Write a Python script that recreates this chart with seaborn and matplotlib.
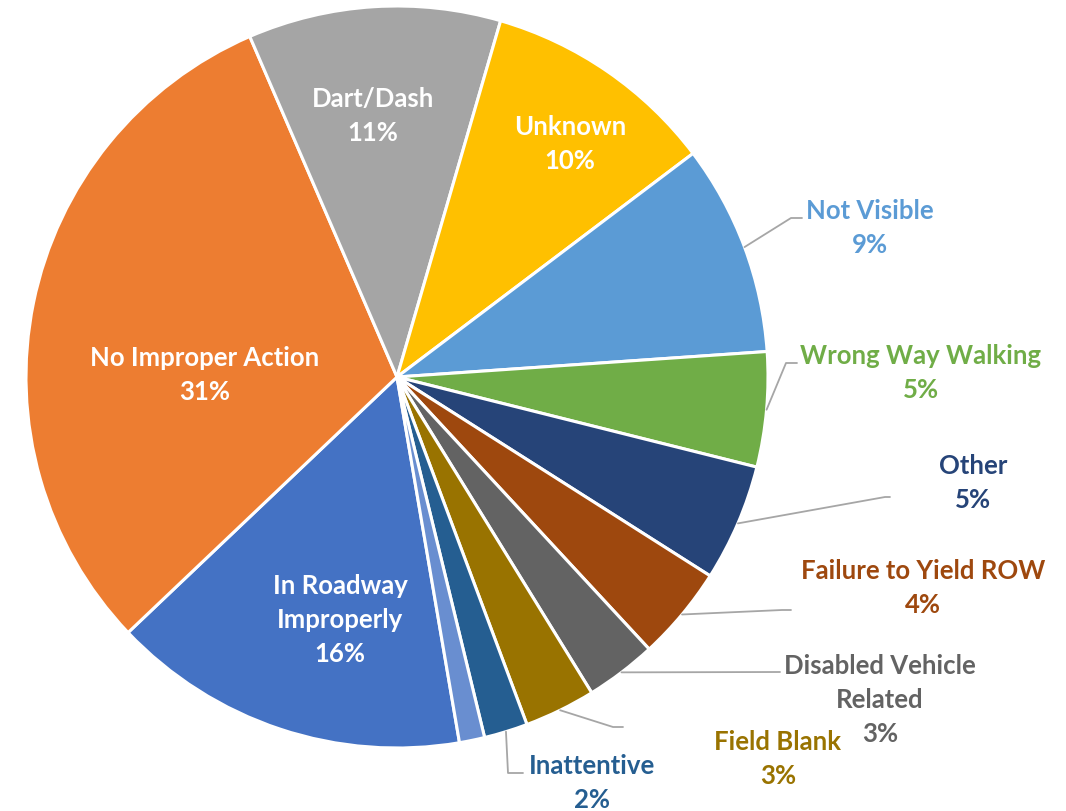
import matplotlib
matplotlib.use("Agg")
import numpy as np
import matplotlib.pyplot as plt
import seaborn as sns

# slices in drawing order (clockwise), last one is an unlabelled sliver
categories = ["In Roadway Improperly", "No Improper Action", "Dart/Dash", "Unknown",
              "Not Visible", "Wrong Way Walking", "Other", "Failure to Yield ROW",
              "Disabled Vehicle Related", "Field Blank", "Inattentive", "(unlabelled)"]
shares = [15.6, 30.6, 11.0, 10.2, 9.2, 5.0, 5.1, 4.1, 3.1, 3.1, 1.9, 1.1]
display_names = ["In Roadway\nImproperly", "No Improper Action", "Dart/Dash", "Unknown",
                 "Not Visible", "Wrong Way Walking", "Other", "Failure to Yield ROW",
                 "Disabled Vehicle\nRelated", "Field Blank", "Inattentive", None]
colors = ["#4472C4", "#ED7D31", "#A5A5A5", "#FFC000", "#5B9BD5", "#70AD47",
          "#264478", "#9E480E", "#636363", "#997300", "#255E91", "#698ED0"]
inside = {"In Roadway Improperly", "No Improper Action", "Dart/Dash", "Unknown"}

sns.set_theme(style="white")
plt.rcParams["font.family"] = ["Lato", "DejaVu Sans"]

W, H = 1066, 811
CX, CY, R = 397, 377, 371  # pie centre and radius in pixels
PITCH = 33.5  # pixel distance between label lines


def P(x, y):
    return (x - CX) / R, (CY - y) / R


# label placement (pixel positions of text centres and leader-line bends)
layout = {
    "In Roadway Improperly": dict(text=(340, 620)),
    "No Improper Action": dict(text=(205, 375)),
    "Dart/Dash": dict(text=(373, 116)),
    "Unknown": dict(text=(570, 144)),
    "Not Visible": dict(text=(870, 228), line=[(791, 218), (802, 218)]),
    "Wrong Way Walking": dict(text=(921, 373), line=[(786, 363), (797, 363)]),
    "Other": dict(text=(973, 483), line=[(885, 497), (890, 497)]),
    "Failure to Yield ROW": dict(text=(923, 588), line=[(782, 610), (791, 610)]),
    "Disabled Vehicle Related": dict(text=(880, 700), line=[(780, 672)]),
    "Field Blank": dict(text=(778, 759), line=[(613, 727), (623, 727)]),
    "Inattentive": dict(text=(592, 783), line=[(508, 773), (523, 773)]),
}

fig = plt.figure(figsize=(W / 100, H / 100), dpi=100)
ax = fig.add_axes([0, 0, 1, 1])

wedges, _ = ax.pie(shares, colors=colors, startangle=90 - 170.3, counterclock=False,
                   radius=1, center=(0, 0),
                   wedgeprops=dict(edgecolor="white", linewidth=2.2))

for wedge, cat, name, share, col in zip(wedges, categories, display_names, shares, colors):
    if name is None:
        continue
    lines = name.split("\n") + [f"{share:.0f}%"]
    cx, cy = layout[cat]["text"]
    tcol = "white" if cat in inside else col
    for i, line in enumerate(lines):
        y = cy + (i - (len(lines) - 1) / 2) * PITCH
        ax.text(*P(cx, y), line, ha="center", va="center", color=tcol,
                fontsize=18.5, fontweight="bold")
    if cat not in inside:
        mid = np.deg2rad((wedge.theta1 + wedge.theta2) / 2)
        pts = [(np.cos(mid), np.sin(mid))] + [P(*p) for p in layout[cat]["line"]]
        xs, ys = zip(*pts)
        ax.plot(xs, ys, color="#A6A6A6", linewidth=1.3)

ax.set_xlim(-CX / R, (W - CX) / R)
ax.set_ylim((CY - H) / R, CY / R)
ax.set_aspect("auto")
ax.axis("off")

fig.savefig("out.png", dpi=100, facecolor="white")
